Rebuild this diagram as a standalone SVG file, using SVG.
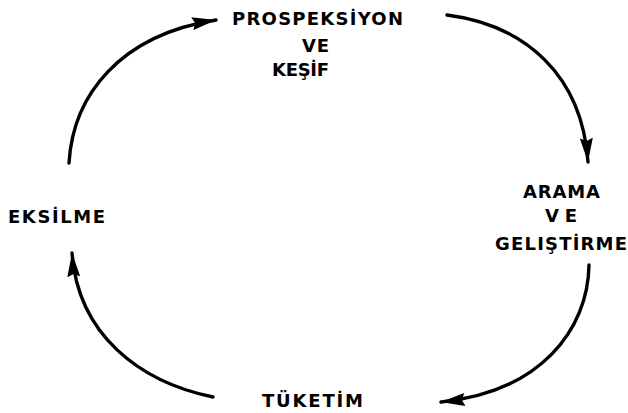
<svg xmlns="http://www.w3.org/2000/svg" width="628" height="413" viewBox="0 0 628 413">
<defs>
<style>
.lbl{font-family:"DejaVu Sans","Liberation Sans",sans-serif;font-weight:bold;font-size:18px;fill:#000}
.arc{fill:none;stroke:#000;stroke-width:3.4;stroke-linecap:round}
</style>
<marker id="ah" viewBox="0 0 24 13" refX="24" refY="6.5" markerWidth="24" markerHeight="13" markerUnits="userSpaceOnUse" orient="auto">
<path d="M0,0 L24,6.5 L0,13 L3,6.5 Z" fill="#000"/>
</marker>
</defs>
<rect width="628" height="413" fill="#fff"/>
<g id="connectors">
<path class="arc" d="M69,163 C73,95 120,35 216,20" marker-end="url(#ah)"/>
<path class="arc" d="M447,15 C525,25 582,75 588,162" marker-end="url(#ah)"/>
<path class="arc" d="M589,265 C588,330 540,392 441,402" marker-end="url(#ah)"/>
<path class="arc" d="M213,397 C140,382 78,335 72,253" marker-end="url(#ah)"/>
</g>
<g id="prospeksiyon">
<text class="lbl" x="232" y="25" textLength="171">PROSPEKSİYON</text>
<text class="lbl" x="302" y="52" textLength="27">VE</text>
<text class="lbl" x="272" y="76" textLength="57">KEŞİF</text>
</g>
<g id="arama">
<text class="lbl" x="523" y="198" textLength="77">ARAMA</text>
<text class="lbl" x="545" y="222" textLength="32">VE</text>
<text class="lbl" x="495" y="250" textLength="132">GELIŞTİRME</text>
</g>
<g id="eksilme">
<text class="lbl" x="8" y="223" textLength="97">EKSİLME</text>
</g>
<g id="tuketim">
<text class="lbl" x="262" y="407" textLength="101">TÜKETİM</text>
</g>
</svg>
